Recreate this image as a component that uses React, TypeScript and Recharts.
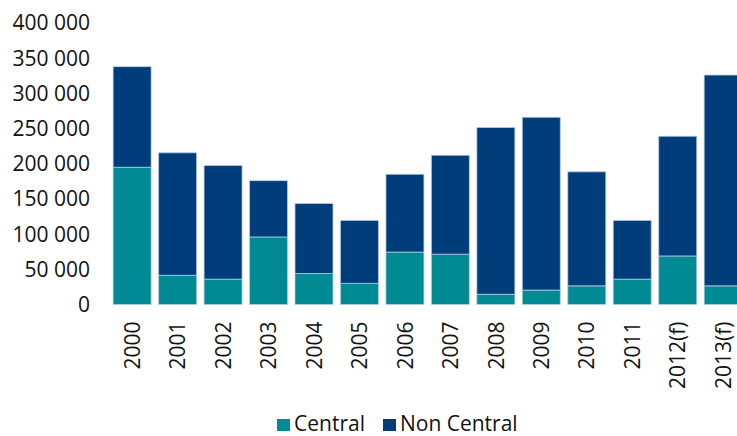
import { BarChart, Bar, XAxis, YAxis, Legend } from 'recharts'

const YEARS = ['2000', '2001', '2002', '2003', '2004', '2005', '2006', '2007', '2008', '2009', '2010', '2011', '2012(f)', '2013(f)']
const CENTRAL = [195000, 41500, 36000, 96000, 44000, 30000, 74500, 71500, 14500, 20500, 26500, 36000, 69000, 26500]
const NON_CENTRAL = [143000, 174000, 161500, 80000, 99500, 89500, 110500, 140500, 237000, 245500, 162000, 83500, 170000, 299500]
const Y_TICKS = [0, 50000, 100000, 150000, 200000, 250000, 300000, 350000, 400000]

const TEAL = '#008B94'
const NAVY = '#023D7B'
const FONT = '"Open Sans", sans-serif'

const data = YEARS.map((year, i) => ({
  year,
  central: CENTRAL[i],
  nonCentral: NON_CENTRAL[i],
}))

const formatNumber = (v: number) => String(v).replace(/\B(?=(\d{3})+(?!\d))/g, ' ')

const XTick = ({ x, y, payload }: any) => (
  <g transform={`translate(${x},${y}) rotate(-90)`}>
    <text x={0} y={0} dy="0.36em" textAnchor="end" fill="#111" fontSize={21} fontFamily={FONT}>
      {payload.value}
    </text>
  </g>
)

const LegendContent = ({ payload }: any) => (
  <div style={{ display: 'flex', alignItems: 'center', fontFamily: FONT, fontSize: 21, lineHeight: '21px', height: 21, color: '#111' }}>
    {payload.map((entry: any, index: number) => (
      <div key={index} style={{ display: 'flex', alignItems: 'center', marginRight: 18 }}>
        <div style={{ width: 13, height: 12, backgroundColor: entry.color, marginRight: 4, marginTop: 3 }} />
        <span>{entry.value}</span>
      </div>
    ))}
  </div>
)

export default function App() {
  return (
    <div style={{ position: 'absolute', left: 0, top: 0, width: 737, height: 436, overflow: 'hidden', background: '#fff' }}>
      <BarChart
        width={752}
        height={436}
        data={data}
        margin={{ top: 23, right: 6, left: 0, bottom: 0 }}
        barCategoryGap="8%"
      >
        <XAxis
          dataKey="year"
          interval={0}
          axisLine={false}
          tickLine={false}
          tickSize={0}
          tickMargin={17}
          height={110.5}
          tick={<XTick />}
        />
        <YAxis
          domain={[0, 400000]}
          ticks={Y_TICKS}
          axisLine={false}
          tickLine={false}
          tickSize={0}
          tickMargin={19.5}
          width={109.5}
          tick={{ fill: '#111', fontSize: 21, fontFamily: FONT }}
          tickFormatter={formatNumber}
        />
        <Legend
          verticalAlign="bottom"
          height={21}
          content={<LegendContent />}
          wrapperStyle={{ left: 277, top: 413, width: 300, height: 21 }}
        />
        <Bar dataKey="central" stackId="a" name="Central" fill={TEAL} stroke="#b9cde2" strokeWidth={0.75} isAnimationActive={false} />
        <Bar dataKey="nonCentral" stackId="a" name="Non Central" fill={NAVY} stroke="#b9cde2" strokeWidth={0.75} isAnimationActive={false} />
      </BarChart>
    </div>
  )
}
